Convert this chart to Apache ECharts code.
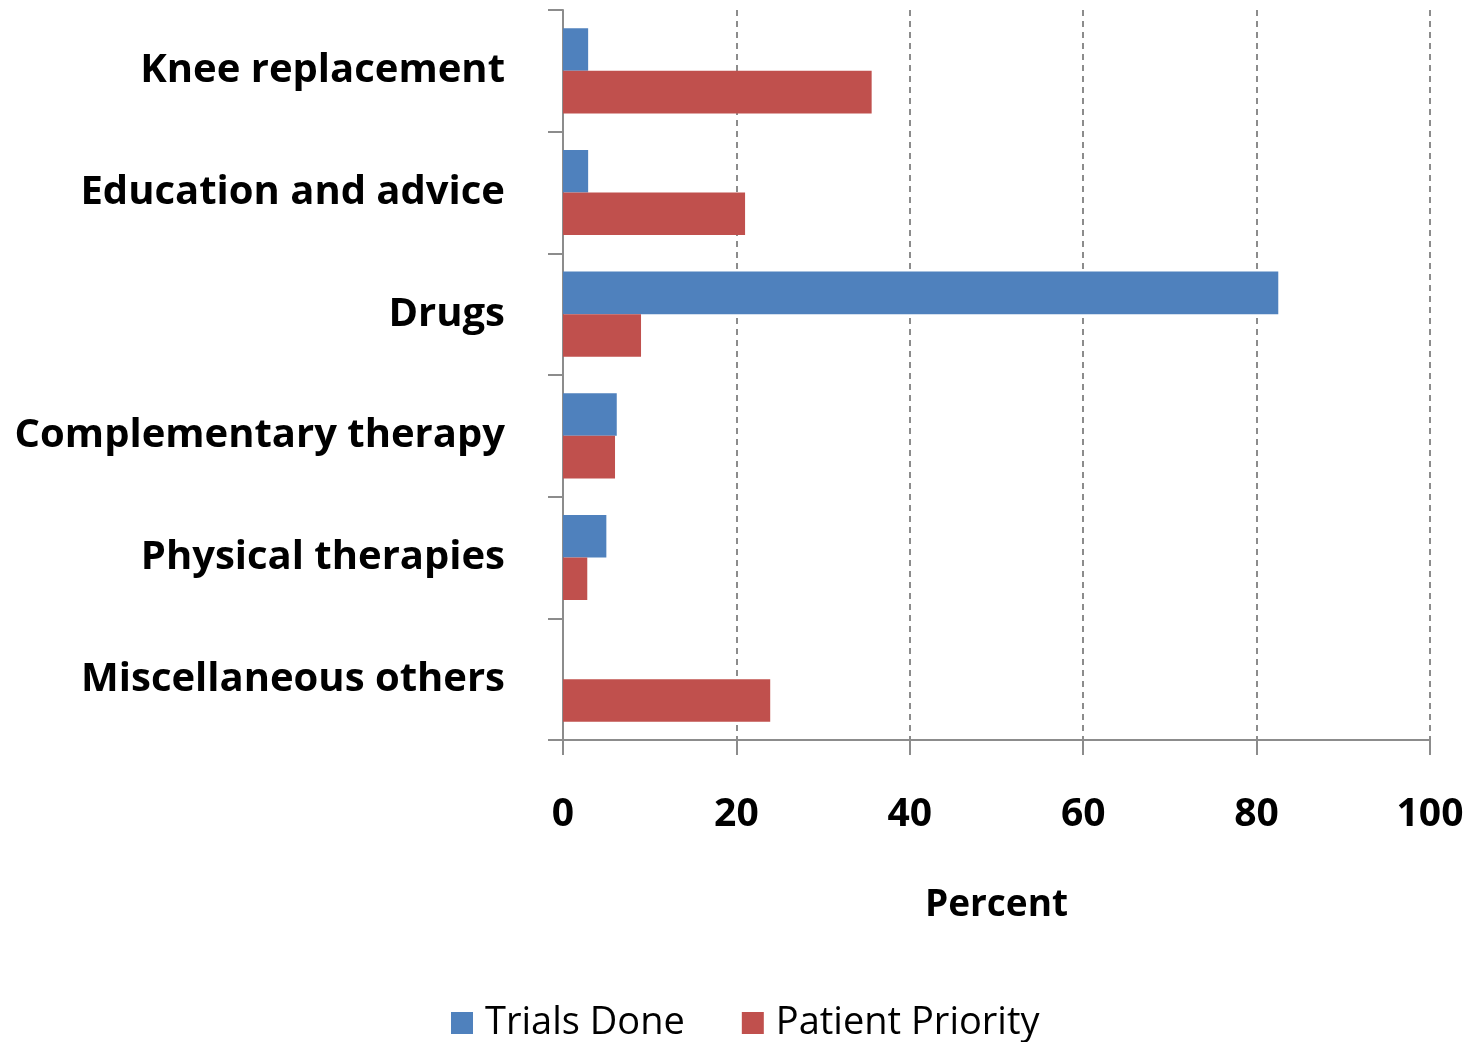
<!DOCTYPE html>
<html>
<head>
<meta charset="utf-8">
<script src="https://cdn.jsdelivr.net/npm/echarts@6/dist/echarts.min.js"></script>
<style>
html,body{margin:0;padding:0;background:#fff;}
#chart{width:1467px;height:1042px;}
</style>
</head>
<body>
<div id="chart"></div>
<script>
const categories = ["Knee replacement", "Education and advice", "Drugs", "Complementary therapy", "Physical therapies", "Miscellaneous others"];
const trialsDone = [2.9, 2.9, 82.5, 6.2, 5.0, 0];
const patientPriority = [35.6, 21.0, 9.0, 6.0, 2.8, 23.9];
const xTicks = [0, 20, 40, 60, 80, 100];

const FONT = "Open Sans";
const chart = echarts.init(document.getElementById('chart'), null, {renderer: 'canvas'});
chart.setOption({
  backgroundColor: '#ffffff',
  animation: false,
  textStyle: {fontFamily: FONT},
  grid: {left: 563, right: 37, top: 10, bottom: 302, containLabel: false},
  legend: {
    bottom: 0,
    left: 451,
    padding: 0,
    itemWidth: 22,
    itemHeight: 22,
    itemGap: 57,
    icon: 'rect',
    textStyle: {fontFamily: FONT, fontSize: 38, color: '#000', padding: [0,0,0,7]},
    data: ['Trials Done', 'Patient Priority']
  },
  xAxis: {
    type: 'value',
    min: xTicks[0],
    max: xTicks[xTicks.length - 1],
    interval: 20,
    name: 'Percent',
    nameLocation: 'middle',
    nameGap: 147,
    nameTextStyle: {fontFamily: FONT, fontSize: 37, fontWeight: 'bold', color: '#000'},
    axisLine: {show: true, lineStyle: {color: '#8c8c8c', width: 2}},
    axisTick: {show: true, length: 15, lineStyle: {color: '#8c8c8c', width: 2}},
    axisLabel: {fontFamily: FONT, fontSize: 39, fontWeight: 'bold', color: '#000', margin: 55},
    splitLine: {show: true, lineStyle: {color: '#8c8c8c', type: [6, 5], width: 2}}
  },
  yAxis: {
    type: 'category',
    data: categories,
    inverse: true,
    axisLine: {show: true, lineStyle: {color: '#8c8c8c', width: 2}},
    axisTick: {show: true, length: 15, lineStyle: {color: '#8c8c8c', width: 2}},
    axisLabel: {fontFamily: FONT, fontSize: 40, fontWeight: 'bold', color: '#000', margin: 58}
  },
  series: [
    {
      name: 'Trials Done', type: 'bar', data: trialsDone,
      barGap: '0%', barCategoryGap: '30%',
      itemStyle: {color: '#4F81BD'}
    },
    {
      name: 'Patient Priority', type: 'bar', data: patientPriority,
      barGap: '0%', barCategoryGap: '30%',
      itemStyle: {color: '#C0504D'}
    }
  ]
});
</script>
</body>
</html>
